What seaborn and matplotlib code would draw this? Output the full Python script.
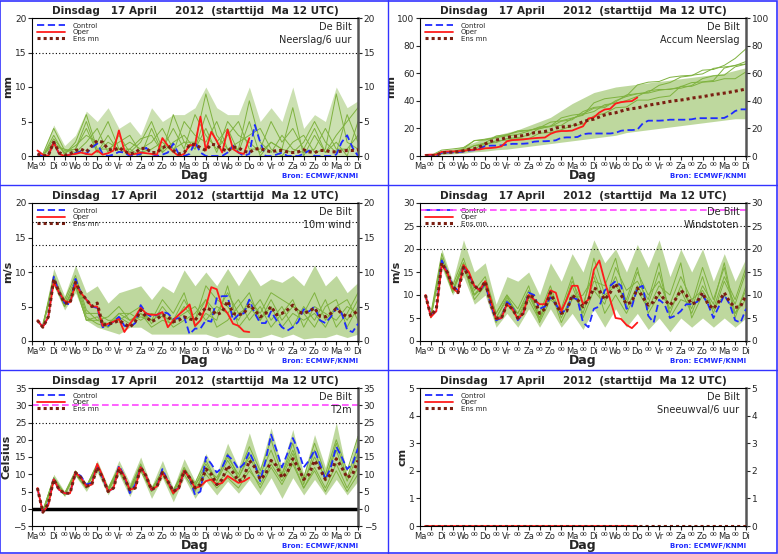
import numpy as np
import pandas as pd
import matplotlib
matplotlib.use("Agg")
import matplotlib.pyplot as plt
from matplotlib.lines import Line2D
import seaborn as sns

days = ["Ma", "Di", "Wo", "Do", "Vr", "Za", "Zo", "Ma", "Di", "Wo", "Do", "Vr", "Za", "Zo", "Ma", "Di"]
title = "Dinsdag   17 April     2012  (starttijd  Ma 12 UTC)"

# ---- Neerslag / 6 uur ----
p_mean = [0.3,0,0.1,2,0.5,0.1,0.3,0.8,1,0.6, 1.5,2.2,2,1,0.8,1.2,0.7,0.3,0.5,1.1,
          1.1,0.5,0.5,1.2,1.5,0.8,0.3,0.5,1.6,1.7, 1.2,0.8,1.7,1.6,1,0.7,1.3,1.2,0.7,0.5,
          1,1.1,0.8,0.6,0.8,0.8,0.6,0.5,0.6,0.9, 0.6,0.5,0.8,0.8,0.6,0.6,0.7,0.8,0.8,0.9]
p_ctrl = [0.2,0,0.1,2,0.3,0,0.2,0.4,0.7,0.3, 1.2,1.8,0.3,0,0.2,0.6,0.5,0,0.1,0.3,
          1.2,0.3,0,0.2,0.5,1.8,0.3,0,0.3,2, 0.5,0,0,0,0,0.5,1.5,0.5,0,0.3,
          4.5,2,0,0,0.2,0.5,0,0,0,0.3, 0.8,0,0,0,0,0.2,2,3,1.2,0]
p_oper = [0.8,0.2,0,2,0.3,0,0.2,0.3,0.5,0.3, 0.2,0.8,0.2,0.4,0.8,3.7,0.8,0.2,0.3,0.5,
          0.4,0.3,0.2,2.6,1.5,0.6,0,0.3,1.6,1.5, 5.7,0.8,3.5,2.2,0.5,3.8,1,0.5,0.3,2.6]
p_hi = [0.5,4.5,1.5,3,6.5,5,7,4,5,3,7,5,6,6,7,10,7,6,6,10,5,7,5,10,4,6,5,10,7,8]
p_members = [
    [0,2,0.5,1,4,0.5,3,0.5,1,0,4,0.5,2,3,1,6,2,4,0.5,5,0,2,1,7,0,3,0.5,2,0,5],
    [0,3,0.2,2,6,1,1,2,3,0.5,1,2,0.5,5,3,2,5,1,2,3,4,1,0,2,3,0.5,1,9,2,1],
    [0.2,1.5,1,0.5,2,4,0.5,3,0.5,2,5,1,4,1,6,3,1,3,5,1,1,5,2,4,1,4,0.5,3,5,7],
    [0,2.5,0.5,1.5,3,2,5,1,2,1,2,4,1,2,2,9,3,1,1,8,2,0.5,3,1,0.5,1,4,1,1,3],
    [0.3,4,0.8,1,5,0.5,2,1,1,2.5,3,0.5,6,2,1,4,0.5,5,3,2,0.5,2,1,0.5,2,5,2,0.5,6,2],
]
# ---- Accum neerslag envelope ----
a_lo = [0,1,1.5,2,3,3.5,4.5,5,6,7,8,9,10,11,12,13,14,15,17,18,19,20,21,22,23,24,25,26,27,27]
a_hi = [1,4,5,7,10,13,15,17,19,22,25,28,33,38,42,46,48,50,51,52,53,54,55,56,57,58,59,60,62,64]

# ---- 10m wind ----
w_mean = [3,2,3.5,9, 7,5.5,5.5,8.5, 7,6,5,5.5, 2.3,2.5,2.6,3, 2.5,2,2.8,4.5, 3.5,2.8,3.2,3.8,
          3.5,2.8,3,3.5, 3.2,3,4,4.8, 4.5,3.8,4.2,5.8, 4,3.8,4,5.2, 4.5,3.5,4,5, 3.8,4,4.5,5.2,
          4.2,4,4.3,4.8, 3.6,3.5,4,4.7, 4,3.5,3.8,4.4]
w_ctrl = [3,2,3.5,9.3, 7,5.5,5.3,9, 7,6,5,4.8, 2,2.2,2.8,3.5, 2.2,2,2.6,5.2, 4,3.5,3.8,4.2,
          4,3.2,3.3,3.5, 1,1.8,1.8,3, 2.8,6.2,6.5,6.5, 3,3.8,4,6, 4,2.6,2.6,4.3, 3,2,1.5,2,
          2.8,4.6,4.3,5, 3,2.6,3.5,4.8, 4,1.6,1.3,2.5]
w_oper = [3,2,3.5,8.5, 7,5.8,5.6,8.2, 7,6,5,5, 2.2,2.5,2.8,3.2, 1.3,2.5,3.5,4.8, 4,3.8,3.8,4.2,
          2,3,3.8,4.5, 5.3,2.2,3,5, 7.8,7.5,5,4, 2.5,2.2,1.4,1.3]
w_lo = [2,8,4.5,7,3,2,1.5,1,2,2,1,1,1,1,1,1,0.5,1,0.5,0.5,0.5,1,0.5,1,0.3,0.5,0.5,1,0.5,1]
w_hi = [3,10.5,6.5,11,7,8,5.5,7,7.5,8,6,8,7,10.3,8,10,8,10.5,8,10.5,8,9,8.5,9.5,8,11,8,9.5,7,8.5]
w_members = [
    [2,9,5,8,3,3,2.5,4,3,4,2,3,2.5,5,3,6,4,7,4,5,3,6,3,5,4,7,3,5,3,6],
    [2,9.5,5.5,9,4,4,3,3,4,5,2.5,5,3,4,5,3,5,4,6,3,5,2,4,6,2,5,4,3,5,4],
    [2.5,8.5,5,8.5,3.5,2.5,2,3.5,2.5,4,3,6,4,7,2,4,3,8,2,4,6,3,5,2,5,3,6,2,4,7],
    [2,9,6,9.5,4.5,3,3.5,5,3,3.5,3,4,2,3,4,6,2,3,5,7,3,5,2,4,3,4,2,5,6,3],
    [2.2,8.8,5,8,3,3.5,2,4,4,3,4,3.5,3,6,3,8,6,5,3,6,4,7,6,5,4,2,5,6,2,5],
]

# ---- Windstoten ----
g_mean = [10,5.5,7,17, 15,12,10.5,16, 14,12,11,13, 8,5,5,8, 7,5,6,10, 9.5,6,7,10.5, 8,6,6.5,10,
          9,7.5,9,11.5, 11,9,10.5,12.5, 10,8,8.5,11.5, 9.5,7.8,8.5,10.5, 9,7.8,9,11, 10,8,8.5,10.5,
          8,7,8.5,10.5, 8.5,7.3,7.5,10]
g_ctrl = [10,5.5,6.5,17.5, 15,12,11,16.5, 14.5,12,11,12.5, 8,4.5,5,8.5, 7.5,4.5,6,10.5, 10,7,7.5,9.5,
          8,6,7,9.5, 9,4,3,7, 7.5,11,12,13, 12,7,7.5,11.5, 12,5.5,4,9, 8,5,5.5,6.5, 8,8,8.5,10,
          8,5,7.5,10, 8,4.5,4,7]
g_oper = [10,5.2,6.5,16.5, 15,11.5,10.5,16.5, 15,12,11,13, 9,4.8,5,8, 7,4.8,6,10, 9,8,8,11,
          10.5,6.5,9,12, 12,8,9,15.5, 17.5,13,9,5, 4.8,3.5,2.8,4]
g_lo = [5,16,10,14,8,10,3,6,3,7,3,7,3,6,2.5,7,3,7,3,6,2.5,5,2,5,3,5,3,5,3,5]
g_hi = [6,20,13,22,15,17,8,14,13,15,10,17,13,19,15,22,17,20,15,21,16,22,14,20,15,20,13,19,13,18]
g_members = [
    [5.5,18,11,17,10,13,5,9,6,11,5,10,6,13,8,15,9,14,7,12,8,15,6,12,7,14,6,13,8,15],
    [5.5,17,11,16,10,12,4,8,5,10,6,12,5,10,7,18,10,12,9,16,6,10,8,14,9,11,7,10,6,9],
    [6,19,12,18,11,14,6,10,7,12,4,9,7,14,5,11,8,16,11,13,9,17,5,9,8,16,9,16,5,12],
    [5,17.5,10.5,16.5,9,12,5,9.5,6,10,5,11,4,9,10,14,6,10,6,11,7,12,10,17,5,10,7,14,9,16],
    [5.2,18,11,17,10,13,6,10,5,9,4.5,10,6,12,6,13,12,18,8,15,10,13,7,11,6,12,8,17,6,11],
]

# ---- T2m ----
t_mean = [6,-1,1.5,8.5, 5.5,4.5,4.5,10.5, 9,6.5,7,12, 9,5,6,11.5, 9,5.5,6,12, 9.5,5.5,6.5,10.5,
          8,5,6,11, 9,6,7,11.5, 10,7,8.5,12.5, 10.5,8,9,14, 12,8.5,10,14, 12.5,9,10.5,14.5,
          12,8.5,10,14, 11.5,8.5,10,14.5, 12,9,10,14]
t_ctrl = [6,-1,1.5,8.5, 5.5,4.5,4.5,10.5, 9.5,7,7.5,12.5, 9,5,6,12.5, 9.5,4.5,7,12, 9.5,5.5,6.5,11.5,
          8,5,6,11, 9,4,5,15, 13,10.5,12,15.5, 14,11.5,13,16.5, 13,8,14,21.5, 17,12,16,20.5,
          17,12,14,17, 13,8.5,12,18, 15,11.5,13,17.5]
t_oper = [6,-1,1,8.5, 5.5,4.5,4.5,10.5, 9,6.5,7,13, 9.5,5,6,12, 9.5,5.5,6,12, 9.5,5.5,6.5,10.5,
          8,4.5,6,11, 9,6,6.5,8, 8.5,7,7.5,9.5, 8.5,7.5,8,9]
t_lo = [-1.5,7.5,3.5,9.5,5,10.5,4,10,3.5,10.5,3,9,2,9,3,8,4,8,4.5,8.5,4,9,3,9,4,8.5,4,8.5,4,8]
t_hi = [0,10,5,11,7,14,6.5,14,7.5,15,6.5,14,6,14.5,8,16,10,19,12,22,12,23.5,12,23,10,21.5,12,25,10,22]
t_members = [
    [-1,8.5,4,10.5,6.5,12.5,5,11.5,5.5,12,5,10.5,4.5,11,6.5,13,8,14,9,16,10,17,9,16,8,15,9,17,8,16],
    [-0.5,9,4.5,10,6,12,5.5,12,6,13,5.5,11,5,12,7,11,7,11,7.5,12,6,12,7,13,6,12,6,13,6,12],
    [-1,8,4,10.5,6.5,12,5,11,5,12.5,6,10,4,10,5,12,9,15,10,18,11,20,10,19,7,17,8,19,9,18],
    [-0.5,8.5,4.5,11,6.5,13,6,12,5,11,5,11,5.5,11,6,10,6,9,6,11,7,13,8,14,6,11,5,11,5,10],
    [-1,9,4,10,6,12.5,5.5,12,5.5,12,5.5,11,5,11.5,7.5,14,8,16,9,15,9,14,10,17,9,19,10,20,11,21],
]

# ---- Sneeuwval ----
s_oper = [0.0] * 40
s_mean = [0.0] * 60

t6 = 0.25 + 0.25 * np.arange(60)
t12 = 0.5 + 0.5 * np.arange(30)

sns.set_style("white")
plt.rcParams['font.family'] = ['DejaVu Sans']

GREEN = "#7fb23f"
FILL = "#a9cc7e"
BLUE = "#1f2bff"
RED = "#ff1a1a"
DRED = "#7a1f12"

fig = plt.figure(figsize=(7.78, 5.54), dpi=100)


def make_ax(row, col):
    x0 = (32 if col == 0 else 420) / 778
    w = 326 / 778
    y0 = 1 - (185 * row + 156) / 554
    h = 138 / 554
    return fig.add_axes([x0, y0, w, h])


def line(ax, x, y, **kw):
    sns.lineplot(x=x, y=y, ax=ax, legend=False, estimator=None, sort=False, **kw)


def decorate(ax, ylim, yticks, ylabel, varname):
    ax.set_xlim(0, 15)
    ax.set_ylim(*ylim)
    ax.set_yticks(yticks)
    ticks = np.arange(0, 15.01, 0.5)
    labels = [days[int(t)] if t == int(t) else "00" for t in ticks]
    ax.set_xticks(ticks)
    ax.set_xticklabels(labels, fontsize=6)
    for t, lab in zip(ticks, ax.get_xticklabels()):
        if t != int(t):
            lab.set_fontsize(4.5)
    ax.tick_params(axis='x', length=3, pad=1, direction='out', bottom=True)
    ax.tick_params(axis='y', labelsize=6.5, length=3, pad=1, left=True, right=True,
                   labelright=True, direction='out')
    ax.set_ylabel(ylabel, fontsize=8, fontweight='bold', labelpad=1)
    ax.set_xlabel("Dag", fontsize=9, fontweight='bold', labelpad=-1)
    ax.set_title(title, fontsize=7.5, fontweight='bold', pad=3)
    for s in ["left", "bottom", "top"]:
        ax.spines[s].set_color("black")
        ax.spines[s].set_linewidth(0.8)
    ax.spines["right"].set_color("#555555")
    ax.spines["right"].set_linewidth(1.8)
    ax.text(0.98, 0.97, "De Bilt\n" + varname, transform=ax.transAxes, ha='right', va='top',
            fontsize=7, linespacing=1.3)
    ax.text(1.0, -0.12, "Bron: ECMWF/KNMI", transform=ax.transAxes, ha='right', va='top',
            fontsize=5, color=BLUE, fontweight='bold')
    handles = [Line2D([], [], color=BLUE, ls=(0, (4, 2)), lw=1.3),
               Line2D([], [], color=RED, lw=1.3),
               Line2D([], [], color=DRED, ls=(0, (1, 1)), lw=2.2)]
    leg = ax.legend(handles, ["Control", "Oper", "Ens mn"], loc='upper left', fontsize=5,
                    frameon=False, handlelength=4, labelspacing=0.05, borderaxespad=0.3,
                    handletextpad=1.2)
    leg.set_zorder(1)


def ensemble(ax, lo, hi, members):
    ax.fill_between(t12, lo, hi, color=FILL, alpha=0.75, lw=0, zorder=1)
    for m in members:
        line(ax, t12, m, color=GREEN, lw=0.7, zorder=2)


def main_lines(ax, ctrl, oper, mean):
    line(ax, t6[:len(ctrl)], ctrl, color=BLUE, lw=1.3, linestyle=(0, (4, 2)), zorder=4)
    line(ax, t6[:len(oper)], oper, color=RED, lw=1.3, zorder=5)
    line(ax, t6[:len(mean)], mean, color=DRED, lw=2.2, linestyle=(0, (1, 1)), zorder=6)


# Panel 1: precipitation
ax = make_ax(0, 0)
ax.axhline(15, color='black', ls=(0, (1, 2)), lw=0.8)
ax.fill_between(t12, 0, p_hi, color=FILL, alpha=0.6, lw=0, zorder=1)
for m in p_members:
    line(ax, t12, m, color=GREEN, lw=0.7, zorder=2)
main_lines(ax, p_ctrl, p_oper, p_mean)
decorate(ax, (0, 20), range(0, 21, 5), "mm", "Neerslag/6 uur")

# Panel 2: accumulated
ax = make_ax(0, 1)
ax.fill_between(t12, a_lo, a_hi, color=FILL, alpha=0.75, lw=0, zorder=1)
for m in p_members:
    line(ax, t12, np.cumsum(m), color=GREEN, lw=0.7, zorder=2)
main_lines(ax, np.cumsum(p_ctrl), np.cumsum(p_oper), np.cumsum(p_mean) * 0.93)
decorate(ax, (0, 100), range(0, 101, 20), "mm", "Accum Neerslag")

# Panel 3: 10m wind
ax = make_ax(1, 0)
for lvl in [10.8, 13.9, 17.2]:
    ax.axhline(lvl, color='black', ls=(0, (1, 2)), lw=0.8)
ensemble(ax, w_lo, w_hi, w_members)
main_lines(ax, w_ctrl, w_oper, w_mean)
decorate(ax, (0, 20), range(0, 21, 5), "m/s", "10m wind")

# Panel 4: gusts
ax = make_ax(1, 1)
for lvl in [20, 25]:
    ax.axhline(lvl, color='black', ls=(0, (1, 2)), lw=0.8)
ax.axhline(28.5, color='#ff44ff', ls=(0, (4, 2)), lw=1.2)
ensemble(ax, g_lo, g_hi, g_members)
main_lines(ax, g_ctrl, g_oper, g_mean)
decorate(ax, (0, 30), range(0, 31, 5), "m/s", "Windstoten")

# Panel 5: T2m
ax = make_ax(2, 0)
ax.axhline(25, color='black', ls=(0, (1, 2)), lw=0.8)
ax.axhline(30, color='#ff44ff', ls=(0, (4, 2)), lw=1.2)
ax.axhline(0, color='black', lw=2.5)
ensemble(ax, t_lo, t_hi, t_members)
main_lines(ax, t_ctrl, t_oper, t_mean)
decorate(ax, (-5, 35), range(-5, 36, 5), "Celsius", "T2m")

# Panel 6: snow
ax = make_ax(2, 1)
line(ax, t6[:40], s_oper, color=RED, lw=1.3, zorder=5)
line(ax, t6, s_mean, color=DRED, lw=2.2, linestyle=(0, (1, 1)), zorder=6)
decorate(ax, (0, 5), range(0, 6, 1), "cm", "Sneeuwval/6 uur")

# Panel borders
bc = "#3333ff"
for y in [185, 370]:
    fig.add_artist(Line2D([0, 1], [1 - y / 554] * 2, color=bc, lw=1))
fig.add_artist(Line2D([388 / 778] * 2, [0, 1], color=bc, lw=1))
fig.add_artist(plt.Rectangle((0.0005, 0.001), 0.998, 0.997, fill=False, ec=bc, lw=1.2,
                             transform=fig.transFigure))

fig.savefig("out.png", dpi=100)
